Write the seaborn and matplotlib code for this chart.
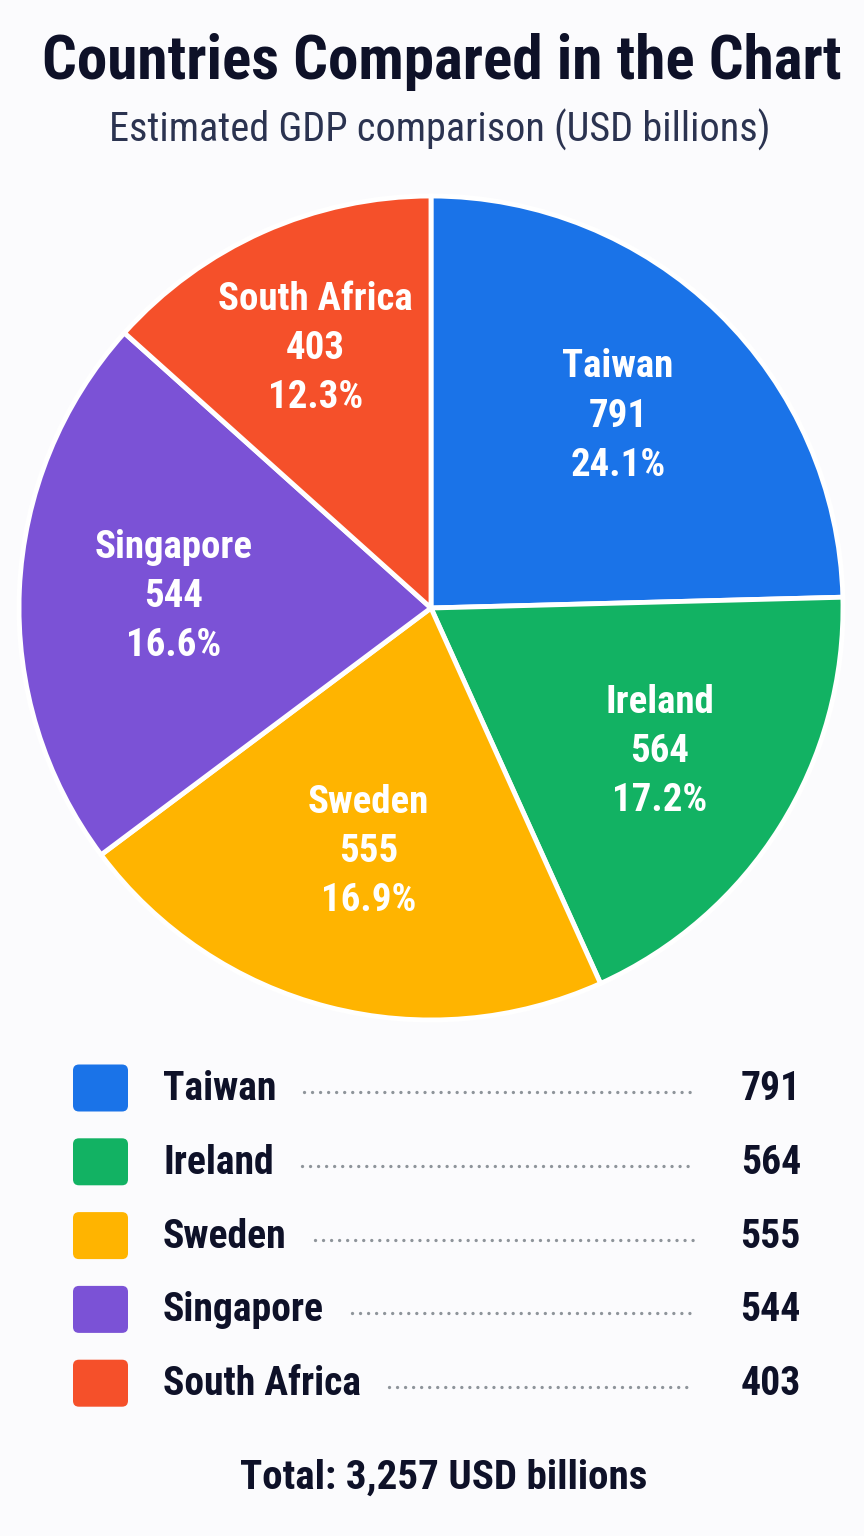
import matplotlib
matplotlib.use('Agg')
import matplotlib.pyplot as plt
from matplotlib.patches import FancyBboxPatch
import numpy as np
import seaborn as sns

# data
countries = ['Taiwan', 'Ireland', 'Sweden', 'Singapore', 'South Africa']
gdp = [791, 564, 555, 544, 403]
pct_labels = ['24.1%', '17.2%', '16.9%', '16.6%', '12.3%']
# slice sizes as drawn in the reference (degrees)
slice_deg = [88.5, 67.2, 77.5, 78.7, 48.1]
colors = ['#1A73E8', '#12B263', '#FFB400', '#7B52D6', '#F5502A']
total_label = 'Total: 3,257 USD billions'

# radial spot of each slice label (fraction of radius)
label_r = [0.65, 0.655, 0.61, 0.625, 0.69]

sns.set_theme(style='white')
plt.rcParams['font.family'] = ['Roboto Condensed', 'DejaVu Sans']

bg = '#FBFBFD'
ink = '#0E1128'
W, H = 864, 1536
fig = plt.figure(figsize=(W / 100, H / 100), dpi=100, facecolor=bg)

# pie
cx, cy, r = 431, 608, 412
ax = fig.add_axes([(cx - r) / W, 1 - (cy + r) / H, 2 * r / W, 2 * r / H])
ax.set_facecolor('none')
palette = sns.color_palette(colors)
labels = [f'{c}\n{v}\n{p}' for c, v, p in zip(countries, gdp, pct_labels)]
wedges, texts = ax.pie(slice_deg, colors=palette, startangle=90, counterclock=False,
                       labels=labels, labeldistance=0.65, radius=1,
                       wedgeprops=dict(edgecolor='white', linewidth=3.5),
                       textprops=dict(color='white', fontsize=28, fontweight='bold',
                                      linespacing=1.42))
for w, t, lr in zip(wedges, texts, label_r):
    mid = np.deg2rad((w.theta1 + w.theta2) / 2)
    t.set_position((lr * np.cos(mid), lr * np.sin(mid)))
    t.set_ha('center')
    t.set_va('center')
    t.set_multialignment('center')
ax.set_xlim(-1, 1)
ax.set_ylim(-1, 1)
ax.set_aspect('equal')

# overlay in pixel units for titles and the legend table
ov = fig.add_axes([0, 0, 1, 1])
ov.set_xlim(0, W)
ov.set_ylim(H, 0)
ov.axis('off')
ov.set_facecolor('none')

ov.text(442, 62, 'Countries Compared in the Chart', ha='center', va='center',
        fontsize=44, fontweight='bold', color=ink)
ov.text(440, 130, 'Estimated GDP comparison (USD billions)', ha='center', va='center',
        fontsize=29, color='#2B3350')

row_y0, row_gap = 1088, 73.8
name_texts = []
for i, (c, v, col) in enumerate(zip(countries, gdp, palette)):
    y = row_y0 + i * row_gap
    ov.add_patch(FancyBboxPatch((73, y - 23.5), 55, 47,
                                boxstyle='round,pad=0,rounding_size=6',
                                facecolor=col, edgecolor='none'))
    t = ov.text(163, y + 1, c, ha='left', va='center', fontsize=28.5,
                fontweight='bold', color=ink)
    name_texts.append((t, y))
    ov.text(801, y + 1, str(v), ha='right', va='center', fontsize=28.5,
            fontweight='bold', color=ink)

fig.canvas.draw()
renderer = fig.canvas.get_renderer()
for t, y in name_texts:
    x0 = t.get_window_extent(renderer).x1 + 28
    ov.plot([x0, 693], [y + 4, y + 4], color='#8E949A', lw=2.4,
            linestyle=(0, (0.01, 2.4)), dash_capstyle='round')

ov.text(444, 1478, total_label, ha='center', va='center', fontsize=29.5,
        fontweight='bold', color=ink)

fig.savefig('out.png', dpi=100, facecolor=bg)
